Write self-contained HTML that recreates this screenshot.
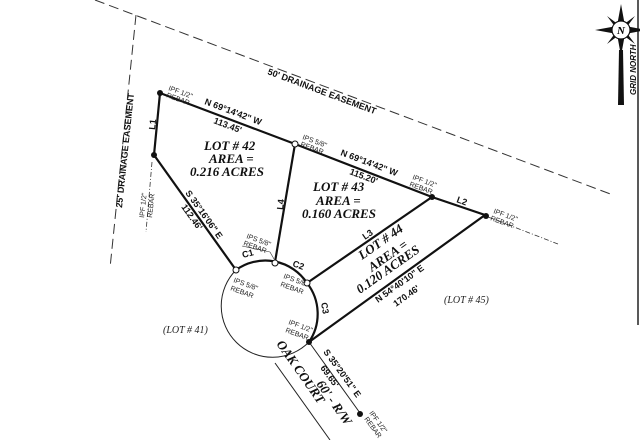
<!DOCTYPE html>
<html><head><style>
body{margin:0;background:#fff}
svg{display:block}
.s{font-family:"Liberation Sans",sans-serif;font-size:7px;fill:#222}
.b{font-family:"Liberation Sans",sans-serif;font-size:9px;font-weight:bold;fill:#111}
.t{font-family:"Liberation Serif",serif;font-size:13px;font-weight:bold;font-style:italic;fill:#111}
.i{font-family:"Liberation Serif",serif;font-size:10px;font-style:italic;fill:#222}
</style></head><body>
<svg width="640" height="440" viewBox="0 0 640 440" xmlns="http://www.w3.org/2000/svg">
<rect width="640" height="440" fill="#fff"/>
<!-- easements -->
<line x1="95" y1="0" x2="613" y2="195" stroke="#333" stroke-width="1" stroke-dasharray="10,5"/>
<line x1="136" y1="15" x2="110" y2="268" stroke="#333" stroke-width="1" stroke-dasharray="10,5"/>
<line x1="152" y1="162" x2="146" y2="232" stroke="#333" stroke-width="0.8" stroke-dasharray="5,2,1,2"/>
<line x1="488" y1="217" x2="558" y2="244" stroke="#333" stroke-width="0.8" stroke-dasharray="5,2,1,2"/>
<line x1="638" y1="0" x2="638" y2="325" stroke="#222" stroke-width="1.5"/>
<!-- boundaries -->
<g stroke="#111" stroke-width="2.2" fill="none">
<polyline points="154,155 160,93 295,144 432,197 485,215 309,342"/>
<line x1="154" y1="155" x2="236" y2="270"/>
<line x1="295" y1="144" x2="275" y2="262"/>
<line x1="432" y1="197" x2="307" y2="283"/>
<path d="M236,270 A50,50 0 0 1 307,283 A50,50 0 0 1 309,342"/>
</g>
<!-- circle remainder + road -->
<path d="M309,342 A50,50 0 1 1 236,270" fill="none" stroke="#222" stroke-width="1"/>
<line x1="275" y1="363" x2="330" y2="440" stroke="#222" stroke-width="1"/>
<line x1="309" y1="342" x2="360" y2="413" stroke="#222" stroke-width="1"/>
<!-- points -->
<g fill="#111"><circle cx="160" cy="93" r="3"/><circle cx="154" cy="155" r="3"/><circle cx="432" cy="197" r="3"/><circle cx="486" cy="216" r="3"/><circle cx="309" cy="342" r="3"/><circle cx="360" cy="414" r="3"/></g>
<g fill="#fff" stroke="#111" stroke-width="1"><circle cx="295" cy="144" r="3"/><circle cx="236" cy="270" r="3"/><circle cx="275" cy="263" r="3"/><circle cx="307" cy="283" r="3"/></g>
<!-- labels -->
<text class="b" transform="translate(267,74) rotate(20.5)">50' DRAINAGE EASEMENT</text>
<text class="b" transform="translate(122,208) rotate(-84)">25' DRAINAGE EASEMENT</text>
<text class="s" transform="translate(168,90) rotate(20)">IPF 1/2"</text>
<text class="s" transform="translate(166,97) rotate(20)">REBAR</text>
<text class="b" transform="translate(204,104) rotate(20.7)">N 69°14'42" W</text>
<text class="b" transform="translate(213,123) rotate(20.7)">113.45'</text>
<text class="b" transform="translate(155,130) rotate(-84)">L1</text>
<text class="s" transform="translate(144,218) rotate(-84)">IPF 1/2"</text>
<text class="s" transform="translate(152,218) rotate(-84)">REBAR</text>
<text class="b" transform="translate(185,193) rotate(54.5)">S 35°16'06" E</text>
<text class="b" transform="translate(181,207) rotate(54.5)">112.46'</text>
<text class="s" transform="translate(302,139) rotate(20)">IPS 5/8"</text>
<text class="s" transform="translate(300,146) rotate(20)">REBAR</text>
<text class="b" transform="translate(340,155) rotate(20.7)">N 69°14'42" W</text>
<text class="b" transform="translate(349,174) rotate(20.7)">115.20'</text>
<text class="s" transform="translate(412,179) rotate(20)">IPF 1/2"</text>
<text class="s" transform="translate(409,186) rotate(20)">REBAR</text>
<text class="b" transform="translate(456,202) rotate(20)">L2</text>
<text class="s" transform="translate(493,213) rotate(20)">IPF 1/2"</text>
<text class="s" transform="translate(490,220) rotate(20)">REBAR</text>
<text class="b" transform="translate(283,210) rotate(-84)">L4</text>
<text class="t" x="204" y="150">LOT # 42</text>
<text class="t" x="209" y="163">AREA =</text>
<text class="t" x="190" y="176">0.216 ACRES</text>
<text class="t" x="313" y="191">LOT # 43</text>
<text class="t" x="316" y="205">AREA =</text>
<text class="t" x="302" y="218">0.160 ACRES</text>
<text class="b" transform="translate(365,240) rotate(-34.5)">L3</text>
<text class="t" transform="translate(362,260) rotate(-35)">LOT # 44</text>
<text class="t" transform="translate(372,272) rotate(-35)">AREA =</text>
<text class="t" transform="translate(360,294) rotate(-35)">0.120 ACRES</text>
<text class="b" transform="translate(378,303) rotate(-35.8)">N 54°40'10" E</text>
<text class="b" transform="translate(396,307) rotate(-35.8)">170.46'</text>
<text class="i" x="444" y="303">(LOT # 45)</text>
<text class="i" x="163" y="333">(LOT # 41)</text>
<text class="s" transform="translate(246,238) rotate(20)">IPS 5/8"</text>
<text class="s" transform="translate(243,245) rotate(20)">REBAR</text>
<line x1="242" y1="246" x2="270" y2="252" stroke="#333" stroke-width="0.6"/>
<line x1="270" y1="252" x2="274" y2="259" stroke="#333" stroke-width="0.6"/>
<text class="b" transform="translate(243,258) rotate(-15)">C1</text>
<text class="b" transform="translate(292,266) rotate(20)">C2</text>
<text class="b" transform="translate(321,303) rotate(80)">C3</text>
<text class="s" transform="translate(233,282) rotate(20)">IPS 5/8"</text>
<text class="s" transform="translate(230,290) rotate(20)">REBAR</text>
<text class="s" transform="translate(283,278) rotate(20)">IPS 5/8</text>
<text class="s" transform="translate(280,286) rotate(20)">REBAR</text>
<text class="s" transform="translate(288,324) rotate(20)">IPF 1/2"</text>
<text class="s" transform="translate(285,332) rotate(20)">REBAR</text>
<text class="b" transform="translate(323,352) rotate(54)">S 35°20'51" E</text>
<text class="b" transform="translate(320,368) rotate(54)">69.65'</text>
<text class="s" transform="translate(369,413) rotate(54)">IPF 1/2"</text>
<text class="s" transform="translate(364,419) rotate(54)">REBAR</text>
<text class="t" transform="translate(276,344) rotate(55)">OAK COURT</text>
<text class="t" transform="translate(316,384) rotate(55)">60' - R/W</text>
<!-- north arrow -->
<g transform="translate(621,30)">
<polygon points="0,-26 4,-4 26,0 4,4 0,26 -4,4 -26,0 -4,-4" fill="#111"/>
<polygon points="-14,-14 2,-2 14,14 -2,2" fill="#111"/>
<polygon points="14,-14 2,2 -14,14 -2,-2" fill="#111"/>
<circle r="9" fill="#fff" stroke="#111" stroke-width="1.2"/>
<text x="-4" y="4" style="font-family:'Liberation Serif',serif;font-size:11px;font-style:italic;font-weight:bold">N</text>
<polygon points="-2,20 2,20 3,75 -3,75" fill="#111"/>
</g>
<text class="b" transform="translate(636,95) rotate(-90)" style="font-size:8px;font-style:italic">GRID NORTH</text>
</svg>
</body></html>
